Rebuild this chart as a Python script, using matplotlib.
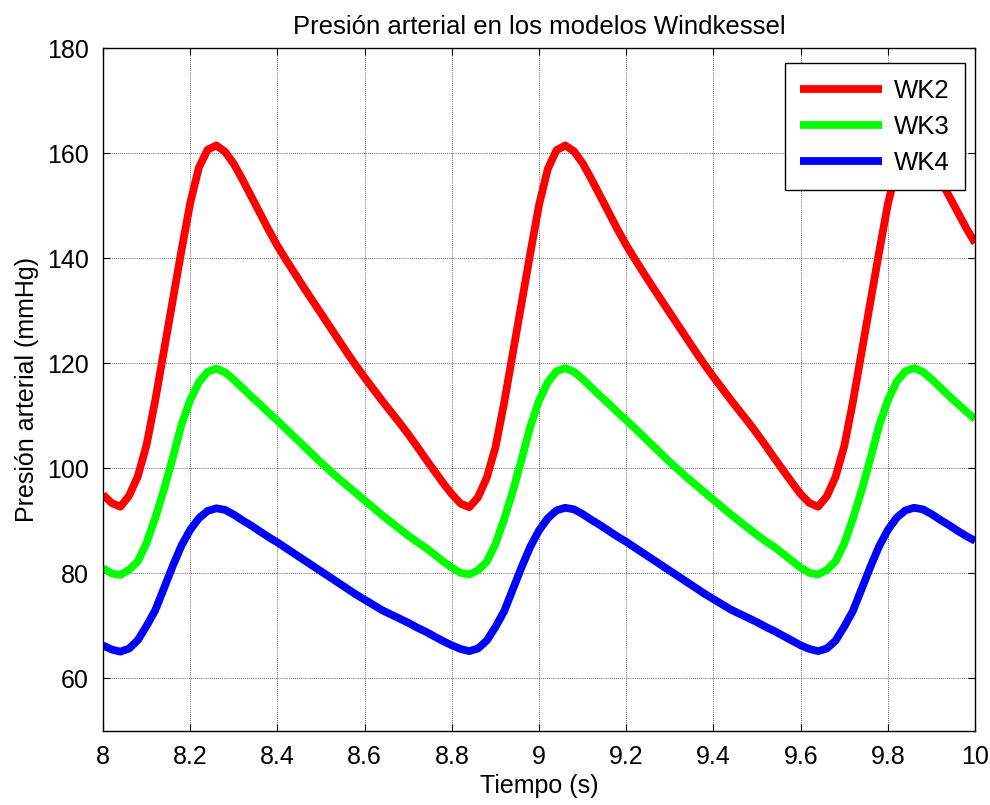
import numpy as np
import matplotlib
matplotlib.use('Agg')
import matplotlib.pyplot as plt

plt.rcParams['font.family'] = ['Liberation Sans', 'DejaVu Sans']

# tiempo de 8 a 10 s, muestras cada 0.02 s
tiempo = np.linspace(8.0, 10.0, 101)

# presión (mmHg)
wk2 = [95.0, 93.4, 92.7, 94.8, 98.5, 104.5, 113.0, 122.5, 132.0, 141.5,
       150.5, 157.3, 160.7, 161.5, 160.3, 158.0, 155.0, 151.8, 148.6, 145.4,
       142.4, 139.7, 137.1, 134.5, 132.0, 129.5, 127.0, 124.5, 122.0, 119.6,
       117.3, 115.1, 112.9, 110.8, 108.7, 106.5, 104.2, 101.8, 99.5, 97.2,
       95.1, 93.3, 92.6, 94.5, 98.2, 104.0, 112.5, 122.0, 131.5, 141.0,
       150.2, 157.0, 160.6, 161.5, 160.4, 158.1, 155.1, 151.9, 148.7, 145.5,
       142.5, 139.8, 137.2, 134.6, 132.1, 129.6, 127.1, 124.6, 122.1, 119.7,
       117.4, 115.2, 113.0, 110.9, 108.8, 106.6, 104.3, 101.9, 99.6, 97.3,
       95.1, 93.4, 92.7, 94.7, 98.4, 104.3, 112.8, 122.3, 131.8, 141.3,
       150.4, 157.2, 160.7, 161.5, 160.3, 158.0, 155.0, 151.9, 148.8, 145.7,
       142.9]

wk3 = [81.0, 80.0, 79.7, 80.7, 82.3, 85.8, 90.6, 96.0, 102.0, 108.3,
       113.0, 116.4, 118.4, 119.0, 118.3, 116.9, 115.3, 113.7, 112.2, 110.6,
       109.1, 107.5, 105.9, 104.3, 102.7, 101.1, 99.6, 98.1, 96.7, 95.3,
       93.9, 92.5, 91.1, 89.8, 88.5, 87.2, 86.0, 84.9, 83.6, 82.3,
       81.1, 80.1, 79.8, 80.6, 82.2, 85.6, 90.3, 95.7, 101.7, 108.0,
       112.9, 116.4, 118.5, 119.1, 118.4, 117.0, 115.4, 113.8, 112.3, 110.7,
       109.2, 107.6, 106.0, 104.4, 102.8, 101.2, 99.7, 98.2, 96.8, 95.4,
       94.0, 92.6, 91.2, 89.9, 88.6, 87.3, 86.1, 85.0, 83.7, 82.4,
       81.1, 80.1, 79.8, 80.7, 82.3, 85.7, 90.5, 95.9, 101.9, 108.2,
       113.0, 116.5, 118.5, 119.1, 118.4, 117.0, 115.4, 113.8, 112.3, 110.8,
       109.4]

wk4 = [66.3, 65.5, 65.1, 65.7, 67.3, 70.0, 73.0, 77.2, 81.4, 85.3,
       88.3, 90.5, 91.9, 92.4, 92.1, 91.2, 90.1, 89.1, 88.0, 86.9,
       85.9, 84.8, 83.7, 82.6, 81.5, 80.4, 79.3, 78.2, 77.1, 76.0,
       75.0, 74.0, 73.0, 72.2, 71.4, 70.6, 69.7, 68.9, 68.0, 67.1,
       66.3, 65.6, 65.2, 65.7, 67.2, 69.8, 72.8, 77.0, 81.2, 85.1,
       88.2, 90.5, 92.0, 92.5, 92.2, 91.3, 90.2, 89.2, 88.1, 87.0,
       86.0, 84.9, 83.8, 82.7, 81.6, 80.5, 79.4, 78.3, 77.2, 76.1,
       75.1, 74.1, 73.1, 72.3, 71.5, 70.7, 69.8, 69.0, 68.1, 67.2,
       66.3, 65.6, 65.2, 65.7, 67.2, 69.9, 72.9, 77.1, 81.3, 85.2,
       88.3, 90.6, 92.0, 92.5, 92.2, 91.3, 90.2, 89.2, 88.1, 87.1,
       86.2]

series = ['WK2', 'WK3', 'WK4']
colores = ['#ff0000', '#00ff00', '#0000ff']

xticks = [8, 8.2, 8.4, 8.6, 8.8, 9, 9.2, 9.4, 9.6, 9.8, 10]
xtick_labels = ['8', '8.2', '8.4', '8.6', '8.8', '9', '9.2', '9.4', '9.6', '9.8', '10']
yticks = [60, 80, 100, 120, 140, 160, 180]

fig = plt.figure(figsize=(9.9, 8.05), dpi=100)
ax = fig.add_axes([0.104, 0.092, 0.881, 0.848])

for nombre, datos, color in zip(series, [wk2, wk3, wk4], colores):
    ax.plot(tiempo, datos, color=color, linewidth=5.6, label=nombre,
            solid_joinstyle='round', solid_capstyle='butt')

ax.set_xlim(8, 10)
ax.set_ylim(50, 180)
ax.set_xticks(xticks)
ax.set_xticklabels(xtick_labels)
ax.set_yticks(yticks)

# estilo tipo MATLAB
ax.grid(True, color='#333333', linestyle=(0, (1, 1.5)), linewidth=0.6)
ax.tick_params(direction='in', top=True, right=True, length=5, width=0.8,
               labelsize=18, pad=10, colors='black')
for s in ax.spines.values():
    s.set_linewidth(1.0)

ax.set_title('Presión arterial en los modelos Windkessel', fontsize=18.5, pad=10)
ax.set_xlabel('Tiempo (s)', fontsize=18, labelpad=4)
ax.set_ylabel('Presión arterial (mmHg)', fontsize=18, labelpad=6)

leg = ax.legend(loc='upper right', bbox_to_anchor=(0.9885, 0.978),
                borderaxespad=0, fontsize=18.5, fancybox=False, framealpha=1,
                edgecolor='black', handlelength=3.2, handletextpad=0.45,
                labelspacing=0.47, borderpad=0.6)
leg.get_frame().set_linewidth(1.0)

fig.savefig('out.png', dpi=100)
